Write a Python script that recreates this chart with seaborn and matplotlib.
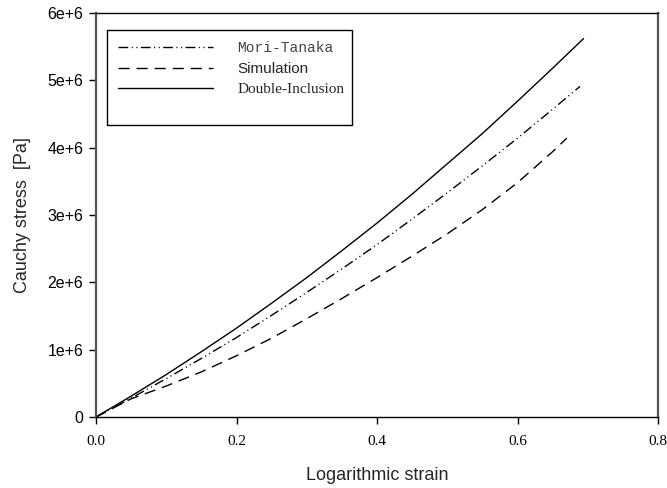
import matplotlib
matplotlib.use('Agg')
import matplotlib.pyplot as plt
import numpy as np
import pandas as pd
import seaborn as sns
from matplotlib.patches import Rectangle
from matplotlib.lines import Line2D

# values (stress in Pa)
strain = [0.0, 0.05, 0.10, 0.15, 0.20, 0.25, 0.30, 0.35, 0.40, 0.45, 0.50, 0.55, 0.60, 0.65]
mori_tanaka = [0.0, 0.28e6, 0.57e6, 0.87e6, 1.18e6, 1.51e6, 1.85e6, 2.20e6, 2.56e6, 2.94e6, 3.33e6, 3.73e6, 4.14e6, 4.57e6]
simulation = [0.0, 0.27e6, 0.46e6, 0.67e6, 0.91e6, 1.17e6, 1.46e6, 1.76e6, 2.07e6, 2.39e6, 2.72e6, 3.08e6, 3.48e6, 3.94e6]
double_inclusion = [0.0, 0.31e6, 0.63e6, 0.97e6, 1.32e6, 1.69e6, 2.07e6, 2.47e6, 2.88e6, 3.31e6, 3.76e6, 4.21e6, 4.69e6, 5.18e6]

# end points of each curve
mt_end = (0.689, 4.91e6)
sim_end = (0.670, 4.14e6)
di_end = (0.694, 5.62e6)

labels = ['Mori-Tanaka', 'Simulation', 'Double-Inclusion']
xticks = [0.0, 0.2, 0.4, 0.6, 0.8]
yticks = [0, 1e6, 2e6, 3e6, 4e6, 5e6, 6e6]
ytick_labels = ['0', '1e+6', '2e+6', '3e+6', '4e+6', '5e+6', '6e+6']

sns.set_style('white')

def make_df(y, end):
    return pd.DataFrame({'strain': strain + [end[0]], 'stress': y + [end[1]]})

styles = {
    'Mori-Tanaka': (0, (7, 2.5, 0.8, 2.5, 0.8, 2.5)),
    'Simulation': (0, (8, 5)),
    'Double-Inclusion': '-',
}

fig = plt.figure(figsize=(6.67, 4.88), dpi=100)
ax = fig.add_axes([96 / 667, 1 - 417 / 488, 562 / 667, 404 / 488])

for name, y, end in zip(labels, [mori_tanaka, simulation, double_inclusion], [mt_end, sim_end, di_end]):
    sns.lineplot(data=make_df(y, end), x='strain', y='stress', ax=ax, color='black',
                 linewidth=1.0, linestyle=styles[name], sort=False)

ax.set_xlim(0, 0.8)
ax.set_ylim(0, 6e6)
ax.set_xticks(xticks)
ax.set_xticklabels(['%.1f' % t for t in xticks], fontfamily='Liberation Serif', fontsize=11)
ax.set_yticks(yticks)
ax.set_yticklabels(ytick_labels, fontfamily='Liberation Sans', fontsize=11.5)
ax.tick_params(axis='both', direction='out', length=5, width=1, colors='black',
               left=True, bottom=True, top=False, right=False)
ax.tick_params(axis='x', pad=8)
ax.tick_params(axis='y', pad=4)

for side in ['left', 'right']:
    ax.spines[side].set_color('#555555')
    ax.spines[side].set_linewidth(1.6)
for side in ['top', 'bottom']:
    ax.spines[side].set_color('black')
    ax.spines[side].set_linewidth(1.0)

ax.set_xlabel('Logarithmic strain', fontfamily='Liberation Sans', fontsize=13, labelpad=14)
ax.set_ylabel('Cauchy stress  [Pa]', fontfamily='Liberation Sans', fontsize=13, labelpad=12)

# legend frame
ax.add_patch(Rectangle((11 / 562, 292 / 404), 245 / 562, 95 / 404, transform=ax.transAxes,
                       fill=False, edgecolor='black', linewidth=1.0, zorder=5))
handles = [Line2D([], [], color='black', linewidth=1.0, linestyle=styles[n]) for n in labels]
leg = ax.legend(handles, labels, loc='upper left', bbox_to_anchor=(22 / 562, 376 / 404),
                frameon=False, fontsize=11, handlelength=6.2, handletextpad=1.6,
                labelspacing=0.45, borderpad=0, borderaxespad=0)
texts = leg.get_texts()
texts[0].set_fontfamily('Liberation Mono')
texts[0].set_fontsize(10.5)
texts[0].set_color('#444444')
texts[1].set_fontfamily('Liberation Sans')
texts[2].set_fontfamily('Liberation Serif')

fig.savefig('out.png', dpi=100)
